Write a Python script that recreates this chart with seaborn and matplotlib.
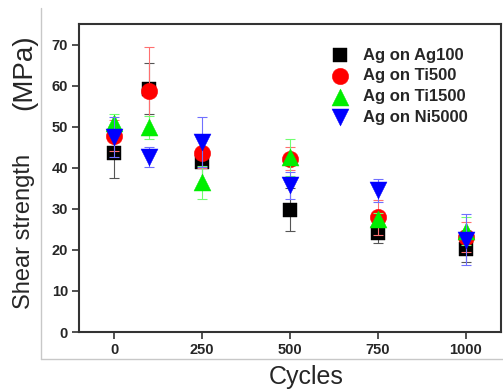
import matplotlib
matplotlib.use("Agg")
import matplotlib.pyplot as plt
from matplotlib.lines import Line2D
import seaborn as sns
import pandas as pd
import numpy as np

cycles = [0, 100, 250, 500, 750, 1000]
series = ["Ag on Ag100", "Ag on Ti500", "Ag on Ti1500", "Ag on Ni5000"]
ag100 = [43.7, 59.2, 41.4, 29.8, 24.2, 20.3]
ag100_err = [6.3, 6.2, 6.0, 5.2, 2.6, 3.2]
ti500 = [47.8, 58.7, 43.7, 42.2, 27.9, 23.2]
ti500_err = [3.8, 10.8, 3.7, 2.8, 4.3, 3.6]
ti1500 = [51.0, 49.9, 36.5, 42.5, 27.4, 24.6]
ti1500_err = [2.2, 2.8, 4.0, 4.4, 1.5, 3.3]
ni5000 = [47.5, 42.6, 46.3, 35.7, 34.5, 22.5]
ni5000_err = [4.8, 2.5, 6.0, 3.3, 2.8, 6.3]
yticks = [0, 10, 20, 30, 40, 50, 60, 70]
xticks = [0, 250, 500, 750, 1000]

values = [ag100, ti500, ti1500, ni5000]
errs = [ag100_err, ti500_err, ti1500_err, ni5000_err]
colors = ["#000000", "#ff0000", "#00ee00", "#0000ff"]
markers = ["s", "o", "^", "v"]
sizes = [95, 140, 150, 150]
err_colors = ["#555555", "#ff7070", "#70ff70", "#7070ff"]

rows = []
for s, v, e in zip(series, values, errs):
    for c, y, ee in zip(cycles, v, e):
        rows.append({"Cycles": c, "Strength": y, "Err": ee, "Series": s})
df = pd.DataFrame(rows)

sns.set_style("white")
plt.rcParams["font.family"] = ["Liberation Sans", "DejaVu Sans"]

fig = plt.figure(figsize=(5.03, 3.89), dpi=100)
ax = fig.add_axes([79/503, 1-332/389, (501-79)/503, (332-24)/389])

for i, s in enumerate(series):
    d = df[df["Series"] == s]
    ax.errorbar(d["Cycles"], d["Strength"], yerr=d["Err"], fmt="none",
                ecolor=err_colors[i], elinewidth=0.8, capsize=3.5, capthick=0.8,
                zorder=2 + i)
    sns.scatterplot(data=d, x="Cycles", y="Strength", marker=markers[i],
                    color=colors[i], s=sizes[i], linewidth=0.3,
                    edgecolor=colors[i], ax=ax, zorder=3 + i, label=s)

ax.set_xlim(-100, 1100)
ax.set_ylim(0, 75)
ax.set_xticks(xticks)
ax.set_yticks(yticks)
ax.tick_params(axis="both", direction="out", length=5, width=1.2,
               color="#333333", labelsize=10.5, pad=3, bottom=True, left=True)
for lab in ax.get_xticklabels() + ax.get_yticklabels():
    lab.set_fontweight("bold")
for sp in ax.spines.values():
    sp.set_color("#333333")
    sp.set_linewidth(1.5)

ax.set_xlabel("Cycles", fontsize=18)
ax.set_ylabel("")
ax.xaxis.set_label_coords(0.538, -0.108)

# y-axis title (two parts, as spaced in the original)
fig.text(24/503, 1-231/389, "Shear strength", rotation=90, fontsize=17,
         ha="center", va="center")
fig.text(24/503, 1-72/389, "(MPa)", rotation=90, fontsize=20,
         ha="center", va="center")

leg = ax.legend(loc="upper left", bbox_to_anchor=(0.563, 0.945), frameon=False,
                prop={"weight": "bold", "size": 12}, handletextpad=0.4,
                labelspacing=0.34, borderaxespad=0)

# light gray page frame
fig.add_artist(Line2D([41/503, 41/503], [1-359/389, 1-8/389], color="#c8c8c8", lw=1))
fig.add_artist(Line2D([41/503, 1.0], [1-359/389, 1-359/389], color="#c8c8c8", lw=1))

fig.savefig("out.png", dpi=100)
